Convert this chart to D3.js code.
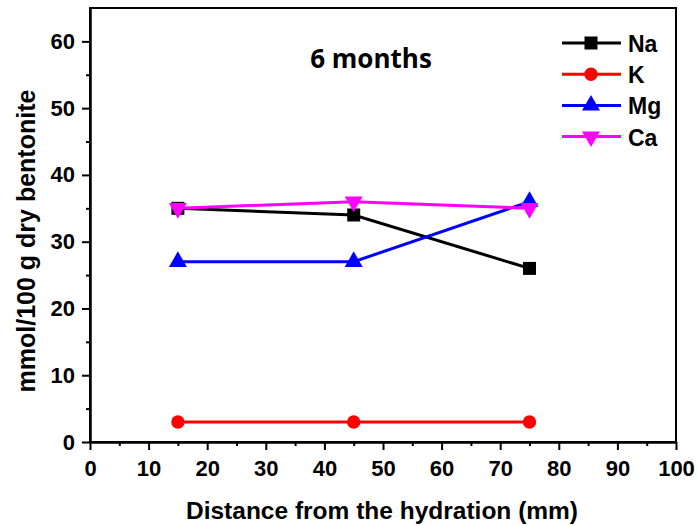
<!DOCTYPE html>
<html><head><meta charset="utf-8">
<script src="https://cdn.jsdelivr.net/npm/d3@7"></script>
<style>body{margin:0;background:#fff}svg{display:block}</style>
</head><body>
<script>
const distances = [15, 45, 75];
const naValues = [35, 34, 26];
const kValues = [3, 3, 3];
const mgValues = [27, 27, 36];
const caValues = [35, 36, 35];
const seriesNames = ["Na", "K", "Mg", "Ca"];
const xTicks = [0,10,20,30,40,50,60,70,80,90,100];
const yTicks = [0,10,20,30,40,50,60];

const series = [
  {name:"Na", values:naValues, color:"#000000", sym:d3.symbolSquare, size:169, rot:0},
  {name:"K", values:kValues, color:"#ff0000", sym:d3.symbolCircle, size:140, rot:0},
  {name:"Mg", values:mgValues, color:"#0000ff", sym:d3.symbolTriangle, size:140, rot:0},
  {name:"Ca", values:caValues, color:"#ff00ff", sym:d3.symbolTriangle, size:140, rot:180}
];

const W=698,H=526;
const m={l:90,r:22,t:8,b:84};
const svg=d3.select("body").append("svg").attr("width",W).attr("height",H);
const x=d3.scaleLinear().domain([0,100]).range([m.l,W-m.r]);
const y=d3.scaleLinear().domain([0,65]).range([H-m.b,m.t]);
const font="'Liberation Sans', Arial, sans-serif";

// frame
svg.append("rect").attr("x",x(0)).attr("y",y(65)).attr("width",x(100)-x(0)).attr("height",y(0)-y(65))
  .attr("fill","none").attr("stroke","#000").attr("stroke-width",2);

// axes
const xa=svg.append("g").attr("transform",`translate(0,${y(0)})`)
  .call(d3.axisBottom(x).tickValues(xTicks).tickSize(8).tickSizeOuter(0).tickPadding(10).tickFormat(d3.format("d")));
const xm=svg.append("g").attr("transform",`translate(0,${y(0)})`)
  .call(d3.axisBottom(x).tickValues(d3.range(5,100,10)).tickSize(4).tickSizeOuter(0).tickFormat(""));
const ya=svg.append("g").attr("transform",`translate(${x(0)},0)`)
  .call(d3.axisLeft(y).tickValues(yTicks).tickSize(8).tickSizeOuter(0).tickPadding(7).tickFormat(d3.format("d")));
const ym=svg.append("g").attr("transform",`translate(${x(0)},0)`)
  .call(d3.axisLeft(y).tickValues(d3.range(5,65,10)).tickSize(4).tickSizeOuter(0).tickFormat(""));
[xa,xm,ya,ym].forEach(g=>{
  g.select(".domain").attr("stroke","#000").attr("stroke-width",2);
  g.selectAll(".tick line").attr("stroke","#000").attr("stroke-width",2);
  g.selectAll("text").attr("font-family",font).attr("font-weight","bold").attr("font-size",22).attr("fill","#000");
});

// lines
const line=d3.line().x((d,i)=>x(distances[i])).y(d=>y(d));
series.forEach(s=>{
  svg.append("path").datum(s.values).attr("d",line).attr("fill","none")
    .attr("stroke",s.color).attr("stroke-width",3);
  svg.selectAll(null).data(s.values).enter().append("path")
    .attr("d",d3.symbol().type(s.sym).size(s.size))
    .attr("transform",(d,i)=>`translate(${x(distances[i])},${y(d)}) rotate(${s.rot})`)
    .attr("fill",s.color);
});

// legend
const lg=svg.append("g");
series.forEach((s,i)=>{
  const yy=43+i*31.2;
  lg.append("line").attr("x1",562).attr("x2",621).attr("y1",yy).attr("y2",yy).attr("stroke",s.color).attr("stroke-width",3);
  lg.append("path").attr("d",d3.symbol().type(s.sym).size(s.size))
    .attr("transform",`translate(591,${yy}) rotate(${s.rot})`).attr("fill",s.color);
  lg.append("text").attr("x",628).attr("y",yy+9).text(seriesNames[i])
    .attr("font-family",font).attr("font-weight","bold").attr("font-size",23);
});

// title
svg.append("text").attr("x",371).attr("y",68).attr("text-anchor","middle").text("6 months")
  .attr("font-family","'Open Sans', sans-serif").attr("font-weight","bold").attr("font-size",26);

// axis titles
svg.append("text").attr("x",382).attr("y",519).attr("text-anchor","middle")
  .text("Distance from the hydration (mm)")
  .attr("font-family",font).attr("font-weight","bold").attr("font-size",24.5);
svg.append("text").attr("transform","translate(35,241) rotate(-90)").attr("text-anchor","middle")
  .text("mmol/100 g dry bentonite")
  .attr("font-family",font).attr("font-weight","bold").attr("font-size",25);
</script>
</body></html>
